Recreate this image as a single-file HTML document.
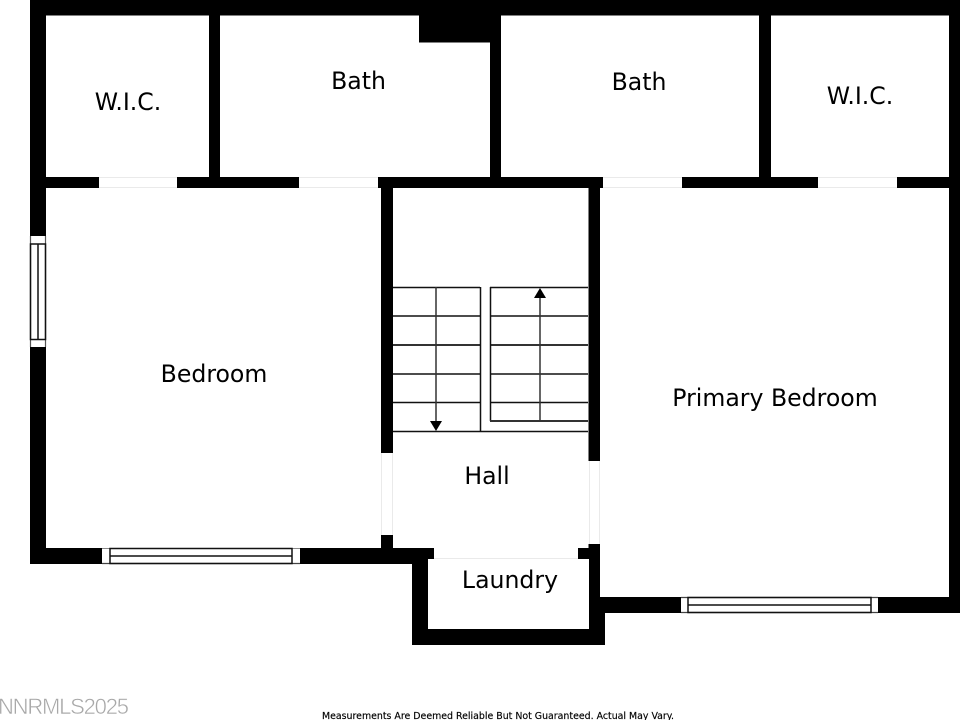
<!DOCTYPE html>
<html>
<head>
<meta charset="utf-8">
<style>
html,body{margin:0;padding:0;background:#fff;width:960px;height:720px;overflow:hidden}
svg{display:block}
text{font-family:"DejaVu Sans","Liberation Sans",sans-serif;fill:#000}
</style>
</head>
<body>
<svg width="960" height="720" viewBox="0 0 960 720" xmlns="http://www.w3.org/2000/svg">
<rect width="960" height="720" fill="#fff"/>
<!-- wall mass -->
<polygon fill="#000" points="30,0 960,0 960,613 605,613 605,645 412,645 412,564 30,564"/>
<!-- rooms -->
<g fill="#fff">
<rect x="46" y="15.500" width="163" height="161.500"/>
<polygon points="220,15.500 419,15.500 419,42.500 490,42.500 490,177 220,177"/>
<rect x="501" y="15.500" width="258" height="161.500"/>
<rect x="771" y="15.500" width="178" height="161.500"/>
<rect x="46" y="188" width="335" height="360"/>
<rect x="393" y="188" width="195.500" height="360"/>
<rect x="600" y="188" width="349" height="409"/>
<rect x="428" y="559" width="161" height="70"/>
<!-- door openings -->
<rect x="99" y="177" width="78" height="11"/>
<rect x="299" y="177" width="79" height="11"/>
<rect x="603" y="177" width="79" height="11"/>
<rect x="818" y="177" width="79" height="11"/>
<rect x="381" y="453" width="12" height="82"/>
<rect x="588" y="461" width="12" height="83"/>
<rect x="434" y="548" width="144" height="11"/>
<!-- window openings -->
<rect x="30" y="236" width="16" height="111"/>
<rect x="102" y="548" width="198" height="16"/>
<rect x="681" y="597" width="197" height="16"/>
</g>
<!-- faint door edges -->
<g stroke="#eaeaea" stroke-width="1" fill="none">
<path d="M99 177.500H177M99 187.500H177M299 177.500H378M299 187.500H378M603 177.500H682M603 187.500H682M818 177.500H897M818 187.500H897"/>
<path d="M381.500 453V535M392.500 453V535M589.500 461V544M599.500 461V544M434 558.500H578"/>
</g>
<!-- windows -->
<g stroke="#111" stroke-width="1.500" fill="none">
<path d="M30.500 236V347M45.500 236V347" stroke="#555" stroke-width="1.200"/>
<rect x="30.500" y="244" width="15" height="95.500"/>
<path d="M38 244V339.500"/>
<path d="M102 548.500H300" stroke="#888" stroke-width="1"/>
<path d="M102 563.500H300" stroke="#444" stroke-width="1.200"/>
<rect x="110" y="548.500" width="182" height="15"/>
<path d="M110 556H292"/>
<path d="M681 597.500H878M681 612.500H878" stroke="#444" stroke-width="1.200"/>
<rect x="688" y="597.500" width="183" height="15"/>
<path d="M688 605H871"/>
</g>
<!-- stairs -->
<g stroke="#111" stroke-width="1.500" fill="none">
<path d="M393 287.500H480M490 287.500H588"/>
<path d="M393 316H480M490 316H588"/>
<path d="M393 345H480M490 345H588" stroke="#333" stroke-width="2"/>
<path d="M393 374H480M490 374H588"/>
<path d="M393 402.500H480M490 402.500H588"/>
<path d="M393 431.500H588"/>
<path d="M480.500 287V431M490.500 287V421"/>
<path d="M490 421H588" stroke="#333" stroke-width="2"/>
<path d="M436 287V422M540 297V421" stroke="#333"/>
</g>
<path d="M430 421H442L436 431Z" fill="#000"/>
<path d="M534 298H546L540 288Z" fill="#000"/>
<!-- labels -->
<g font-size="23.600" text-anchor="middle">
<text x="128" y="110">W.I.C.</text>
<text x="358.500" y="89">Bath</text>
<text x="639" y="90">Bath</text>
<text x="860" y="104">W.I.C.</text>
<text x="214" y="382">Bedroom</text>
<text x="775" y="406">Primary Bedroom</text>
<text x="487" y="484">Hall</text>
<text x="510" y="588">Laundry</text>
</g>
<text x="322" y="719" font-size="9.500" textLength="352" lengthAdjust="spacingAndGlyphs" style="stroke:#000;stroke-width:0.150">Measurements Are Deemed Reliable But Not Guaranteed. Actual May Vary.</text>
<text x="-2" y="714" font-size="22" textLength="131" lengthAdjust="spacing" style="font-family:'Liberation Sans',sans-serif;fill:#a8a8a8;stroke:#fff;stroke-width:0.500;paint-order:fill">NNRMLS2025</text>
</svg>
</body>
</html>
